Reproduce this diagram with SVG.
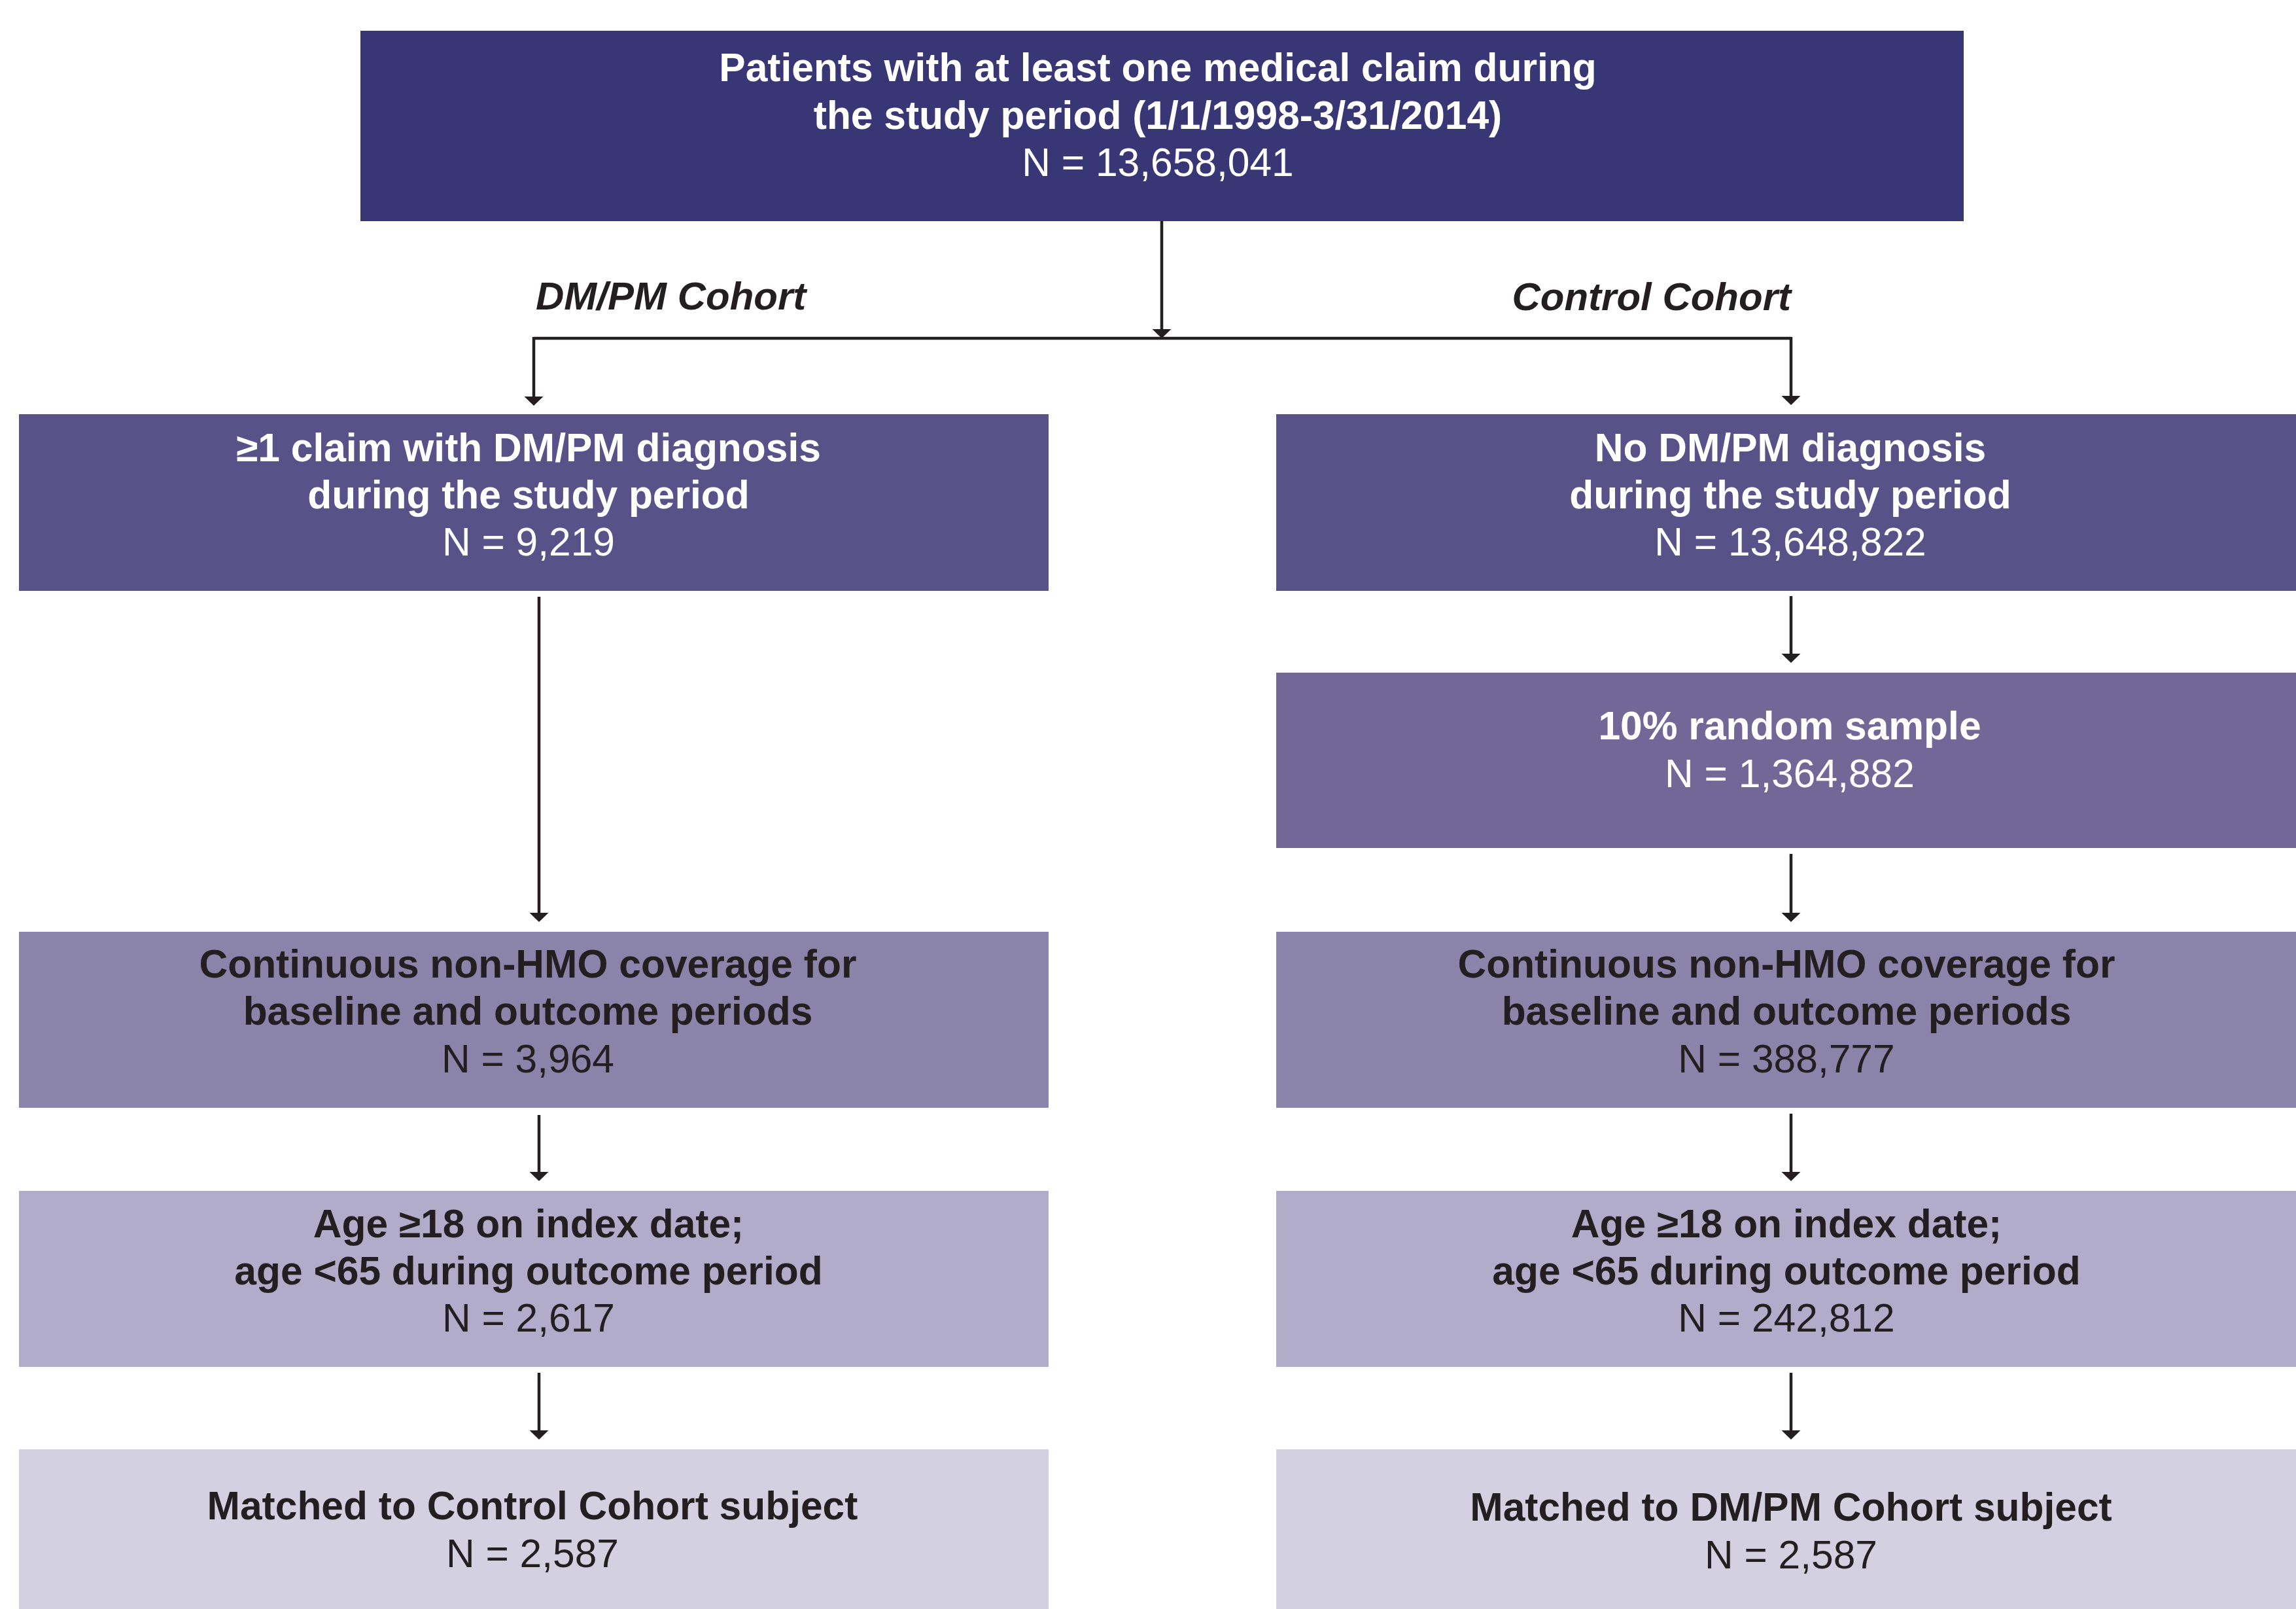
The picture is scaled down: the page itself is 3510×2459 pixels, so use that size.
<svg xmlns="http://www.w3.org/2000/svg" width="3510" height="2459" viewBox="0 0 3510 2459">
<defs>
<style>
text{font-family:"Liberation Sans",Arial,Helvetica,sans-serif;font-size:60.5px;text-anchor:middle}
.b{font-weight:bold}
.w{fill:#ffffff}
.k{fill:#231f20}
.lbl{font-weight:bold;font-style:italic;fill:#231f20;font-size:60px}
.c{fill:none;stroke:#231f20;stroke-width:4.5}
.c0{fill:#383674}
.c1{fill:#585289}
.c2{fill:#726898}
.c3{fill:#8a83aa}
.c4{fill:#b0acca}
.c5{fill:#d3d1e1}
</style>
<marker id="ah" markerUnits="userSpaceOnUse" viewBox="0 0 14 29" markerWidth="14" markerHeight="29" refX="0" refY="14.5" orient="auto">
<path d="M0,0 L14,14.5 L0,29 z" fill="#231f20"/>
</marker>
</defs>
<rect width="3510" height="2459" fill="#ffffff"/>

<g id="connectors">
<path class="c" d="M1776,338 L1776,503" marker-end="url(#ah)"/>
<path class="c" d="M816,517 L2738,517"/>
<path class="c" d="M816,515 L816,606" marker-end="url(#ah)"/>
<path class="c" d="M2738,515 L2738,605" marker-end="url(#ah)"/>
<path class="c" d="M824,912 L824,1395" marker-end="url(#ah)"/>
<path class="c" d="M824,1704 L824,1791" marker-end="url(#ah)"/>
<path class="c" d="M824,2098 L824,2186" marker-end="url(#ah)"/>
<path class="c" d="M2738,911 L2738,999" marker-end="url(#ah)"/>
<path class="c" d="M2738,1305 L2738,1395" marker-end="url(#ah)"/>
<path class="c" d="M2738,1702 L2738,1791" marker-end="url(#ah)"/>
<path class="c" d="M2738,2098 L2738,2186" marker-end="url(#ah)"/>
</g>

<g id="labels">
<text class="lbl" x="819" y="473" style="text-anchor:start">DM/PM Cohort</text>
<text class="lbl" x="2738" y="474" style="text-anchor:end">Control Cohort</text>
</g>

<g id="node-top">
<rect class="c0" x="551" y="47" width="2451" height="291"/>
<text class="b w" x="1770" y="124">Patients with at least one medical claim during</text>
<text class="b w" x="1770" y="197">the study period (1/1/1998-3/31/2014)</text>
<text class="w" x="1770" y="269">N = 13,658,041</text>
</g>

<g id="node-dm-1">
<rect class="c1" x="29" y="633" width="1574" height="270"/>
<text class="b w" x="808" y="705">≥1 claim with DM/PM diagnosis</text>
<text class="b w" x="808" y="777">during the study period</text>
<text class="w" x="808" y="849">N = 9,219</text>
</g>

<g id="node-ctrl-1">
<rect class="c1" x="1951" y="633" width="1574" height="270"/>
<text class="b w" x="2737" y="705">No DM/PM diagnosis</text>
<text class="b w" x="2737" y="777">during the study period</text>
<text class="w" x="2737" y="849">N = 13,648,822</text>
</g>

<g id="node-ctrl-2">
<rect class="c2" x="1951" y="1028" width="1574" height="268"/>
<text class="b w" x="2736" y="1130">10% random sample</text>
<text class="w" x="2736" y="1203">N = 1,364,882</text>
</g>

<g id="node-dm-3">
<rect class="c3" x="29" y="1424" width="1574" height="269"/>
<text class="b k" x="807" y="1494">Continuous non-HMO coverage for</text>
<text class="b k" x="807" y="1566">baseline and outcome periods</text>
<text class="k" x="807" y="1639">N = 3,964</text>
</g>

<g id="node-ctrl-3">
<rect class="c3" x="1951" y="1424" width="1574" height="269"/>
<text class="b k" x="2731" y="1494">Continuous non-HMO coverage for</text>
<text class="b k" x="2731" y="1566">baseline and outcome periods</text>
<text class="k" x="2731" y="1639">N = 388,777</text>
</g>

<g id="node-dm-4">
<rect class="c4" x="29" y="1820" width="1574" height="269"/>
<text class="b k" x="808" y="1891">Age ≥18 on index date;</text>
<text class="b k" x="808" y="1963">age &lt;65 during outcome period</text>
<text class="k" x="808" y="2035">N = 2,617</text>
</g>

<g id="node-ctrl-4">
<rect class="c4" x="1951" y="1820" width="1574" height="269"/>
<text class="b k" x="2731" y="1891">Age ≥18 on index date;</text>
<text class="b k" x="2731" y="1963">age &lt;65 during outcome period</text>
<text class="k" x="2731" y="2035">N = 242,812</text>
</g>

<g id="node-dm-5">
<rect class="c5" x="29" y="2215" width="1574" height="270"/>
<text class="b k" x="814" y="2322">Matched to Control Cohort subject</text>
<text class="k" x="814" y="2395">N = 2,587</text>
</g>

<g id="node-ctrl-5">
<rect class="c5" x="1951" y="2215" width="1574" height="270"/>
<text class="b k" x="2738" y="2324">Matched to DM/PM Cohort subject</text>
<text class="k" x="2738" y="2397">N = 2,587</text>
</g>
</svg>
